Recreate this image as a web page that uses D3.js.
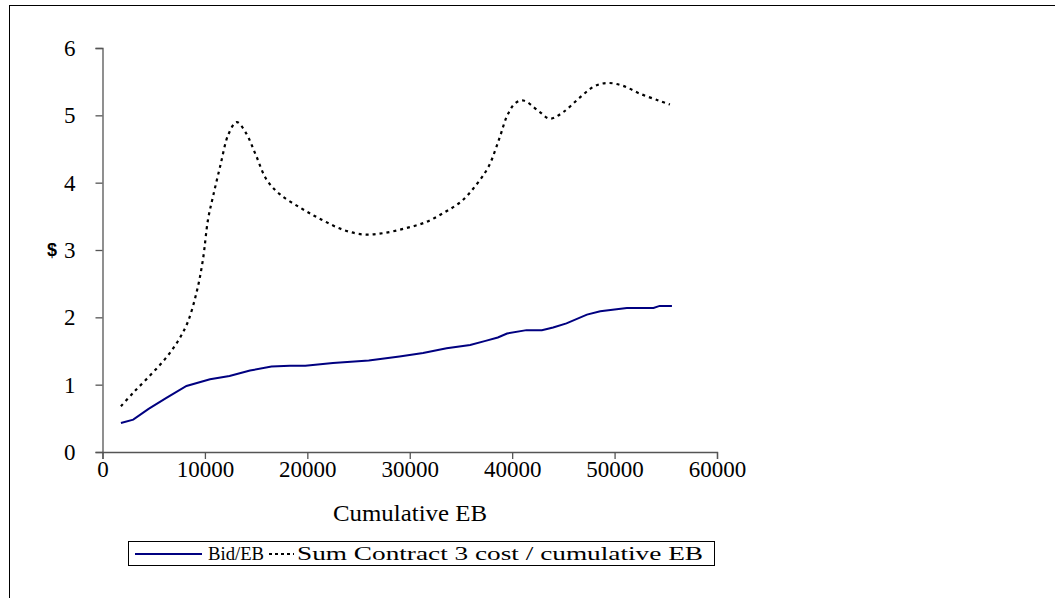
<!DOCTYPE html>
<html>
<head>
<meta charset="utf-8">
<script src="https://cdn.jsdelivr.net/npm/d3@7"></script>
<style>
body { margin:0; background:#fff; }
svg { display:block; }
</style>
</head>
<body>
<svg id="svg"></svg>
<script>
// data
var bidX = [1800, 3000, 4500, 6200, 8200, 10500, 12400, 14400, 16500, 18300, 19800, 22500, 26000, 29000, 31300, 33600, 35900, 37400, 38600, 39500, 41400, 42900, 44000, 45300, 47300, 48600, 51200, 53800, 54400, 55600];
var bidY = [0.43, 0.48, 0.64, 0.80, 0.98, 1.08, 1.13, 1.21, 1.27, 1.28, 1.28, 1.32, 1.36, 1.42, 1.47, 1.54, 1.59, 1.65, 1.70, 1.76, 1.81, 1.81, 1.85, 1.91, 2.04, 2.09, 2.14, 2.14, 2.17, 2.17];

var sumX = [1800, 3000, 4600, 6100, 7300, 8300, 9200, 9800, 10300, 10800, 11500, 12300, 13100, 14000, 15000, 16000, 17300, 19400, 21400, 23500, 25500, 27400, 29500, 31500, 33400, 35100, 36500, 37700, 38800, 39500, 40300, 41100, 42600, 43700, 45000, 46500, 48000, 49300, 50800, 52500, 54300, 55400];
var sumY = [0.68, 0.88, 1.13, 1.38, 1.63, 1.92, 2.38, 2.85, 3.45, 3.80, 4.25, 4.72, 4.90, 4.74, 4.40, 4.05, 3.83, 3.62, 3.45, 3.30, 3.23, 3.25, 3.32, 3.41, 3.56, 3.73, 3.97, 4.24, 4.68, 4.99, 5.18, 5.22, 5.06, 4.95, 5.05, 5.25, 5.43, 5.48, 5.44, 5.32, 5.22, 5.16];

var xTicks = [0, 10000, 20000, 30000, 40000, 50000, 60000];
var yTicks = [0, 1, 2, 3, 4, 5, 6];
var seriesNames = ["Bid/EB", "Sum Contract 3 cost / cumulative EB"];

var W = 1055, H = 598;
var serif = "Liberation Serif";
var svg = d3.select("#svg").attr("width", W).attr("height", H);

// outer chart frame (runs off right and bottom)
svg.append("rect")
.attr("x", 9.5).attr("y", 5.5)
.attr("width", 1100).attr("height", 700)
.attr("fill", "none").attr("stroke", "#000").attr("stroke-width", 1);

var x = d3.scaleLinear().domain([0, 60000]).range([102.5, 717]);
var y = d3.scaleLinear().domain([0, 6]).range([452, 48]);

// axes
var xAxis = svg.append("g")
.attr("transform", "translate(0,452)")
.call(d3.axisBottom(x).tickValues(xTicks).tickSize(7).tickPadding(2).tickFormat(d3.format("d")));

var yAxis = svg.append("g")
.attr("transform", "translate(102.5,0)")
.call(d3.axisLeft(y).tickValues(yTicks).tickSize(7).tickPadding(20).tickFormat(d3.format("d")));

[xAxis, yAxis].forEach(function(a){
  a.attr("font-family", serif).attr("font-size", 23);
  a.select(".domain").attr("stroke", "#555").attr("stroke-width", 1.3);
  a.selectAll(".tick line").attr("stroke", "#555").attr("stroke-width", 1.3);
  a.selectAll("text").attr("fill", "#000");
});

// axis titles
svg.append("text")
.attr("x", 410).attr("y", 521)
.attr("text-anchor", "middle")
.attr("font-family", serif)
.attr("font-size", 23)
.attr("textLength", 154).attr("lengthAdjust", "spacingAndGlyphs")
.text("Cumulative EB");

svg.append("text")
.attr("x", 52).attr("y", 256)
.attr("text-anchor", "middle")
.attr("font-family", "Liberation Sans")
.attr("font-size", 18)
.attr("font-weight", "bold")
.text("$");

// lines
var bidLine = d3.line()
.x(function(d){ return x(d[0]); })
.y(function(d){ return y(d[1]); });

var sumLine = d3.line()
.curve(d3.curveCatmullRom.alpha(0.5))
.x(function(d){ return x(d[0]); })
.y(function(d){ return y(d[1]); });

svg.append("path")
.datum(d3.zip(sumX, sumY))
.attr("d", sumLine)
.attr("fill", "none")
.attr("stroke", "#000")
.attr("stroke-width", 2.2)
.attr("stroke-dasharray", "3,4");

svg.append("path")
.datum(d3.zip(bidX, bidY))
.attr("d", bidLine)
.attr("fill", "none")
.attr("stroke", "#000080")
.attr("stroke-width", 2);

// legend
var legend = svg.append("g").attr("font-family", serif).attr("font-size", 19);
legend.append("rect")
.attr("x", 128.5).attr("y", 541.5)
.attr("width", 586).attr("height", 24)
.attr("fill", "#fff").attr("stroke", "#000").attr("stroke-width", 1);

legend.append("line")
.attr("x1", 135).attr("x2", 202).attr("y1", 554).attr("y2", 554)
.attr("stroke", "#000080").attr("stroke-width", 2);
legend.append("text")
.attr("x", 208).attr("y", 560)
.attr("textLength", 56).attr("lengthAdjust", "spacingAndGlyphs")
.text(seriesNames[0]);

legend.append("line")
.attr("x1", 269).attr("x2", 294).attr("y1", 554).attr("y2", 554)
.attr("stroke", "#000").attr("stroke-width", 2)
.attr("stroke-dasharray", "3,3");
legend.append("text")
.attr("x", 297).attr("y", 560)
.attr("textLength", 406).attr("lengthAdjust", "spacingAndGlyphs")
.text(seriesNames[1]);
</script>
</body>
</html>
